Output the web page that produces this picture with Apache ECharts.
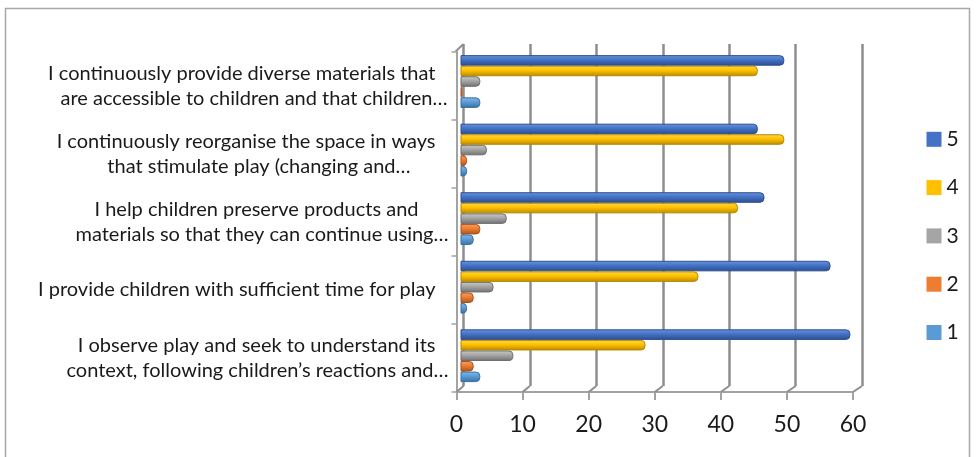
<!DOCTYPE html>
<html>
<head>
<meta charset="utf-8">
<script src="https://cdn.jsdelivr.net/npm/echarts@6/dist/echarts.min.js"></script>
<style>
  html, body { margin: 0; padding: 0; background: #ffffff; }
  #chart { width: 978px; height: 457px; }
</style>
</head>
<body>
<div id="chart"></div>
<script>
// Survey statements (bottom to top on the category axis)
const categories = [
  "I observe play and seek to understand its\ncontext, following children’s reactions and…",
  "I provide children with sufficient time for play",
  "I help children preserve products and\nmaterials so that they can continue using…",
  "I continuously reorganise the space in ways\nthat stimulate play (changing and…",
  "I continuously provide diverse materials that\nare accessible to children and that children…"
];

// Rating levels, drawn top to bottom inside each group
const seriesNames = ["5", "4", "3", "2", "1"];
const values5 = [59, 56, 46, 45, 49];
const values4 = [28, 36, 42, 49, 45];
const values3 = [8, 5, 7, 4, 3];
const values2 = [2, 2, 3, 1, 0];
const values1 = [3, 1, 2, 1, 3];
const seriesValues = [values5, values4, values3, values2, values1];

// Value axis ticks
const xTicks = [0, 10, 20, 30, 40, 50, 60];

// ---- styling ----
const FONT = 'Lato, "Open Sans", sans-serif';
const TEXT = '#1a1a1a';
const AXIS_GREY = '#a3a3a3';
const WALL_GREY = '#8e8e8e';

// base, light, dark shades for each rating colour
const palette = {
  "5": ['#4472C4', '#6a95e0', '#2c4e8e'],
  "4": ['#FFC000', '#ffd84a', '#b78a00'],
  "3": ['#A5A5A5', '#cacaca', '#6f6f6f'],
  "2": ['#ED7D31', '#f6a068', '#a9541c'],
  "1": ['#5B9BD5', '#86bbec', '#3a6f9f']
};

// how far each label line sits left of the common right edge
const labelInsets = [[13, 0], [13], [30, 0], [13, 38], [13, 1]];

// plot planes: back wall, front frame, bar plane
const W = 978, H = 457;
const back  = { left: 463.5, right: W - 862, top: 44, bottom: H - 386 };
const front = { left: 456.5, right: W - 853, top: 51.5, bottom: H - 392 };
const bars  = { left: 460.5, right: W - 857, top: 47.25, bottom: H - 390 };

const LABEL_SIZE = 20;
const labelRich = {};
labelInsets.flat().forEach(function (n) {
  labelRich['r' + n] = {
    fontFamily: FONT, fontSize: LABEL_SIZE, color: TEXT,
    lineHeight: 25, padding: [0, n, 0, 0]
  };
});

const chart = echarts.init(document.getElementById('chart'), null, { renderer: 'canvas' });

const barSeries = seriesNames.map(function (name, i) {
  const c = palette[name];
  return {
    name: name,
    type: 'bar',
    xAxisIndex: 2,
    yAxisIndex: 2,
    data: seriesValues[i],
    barGap: '0%',
    barCategoryGap: '23%',
    barMinHeight: 2,
    itemStyle: {
      color: new echarts.graphic.LinearGradient(0, 0, 0, 1, [
        { offset: 0, color: c[1] },
        { offset: 0.45, color: c[0] },
        { offset: 1, color: c[2] }
      ]),
      borderColor: c[2],
      borderWidth: 1,
      borderRadius: [0, 4, 4, 0]
    },
    emphasis: { disabled: true }
  };
});

// floor lines running from the front ticks back to the wall gridlines
const floorSeries = {
  type: 'custom',
  xAxisIndex: 1,
  yAxisIndex: 1,
  silent: true,
  z: 1,
  data: xTicks.map(function (v) { return [v, 0]; }),
  encode: { x: 0, y: 1 },
  renderItem: function (params, api) {
    const v = api.value(0);
    const cs = params.coordSys;
    const fx = api.coord([v, 0])[0];
    const fy = cs.y + cs.height;
    const backWidth = W - back.left - back.right;
    const bx = back.left + (v / 60) * backWidth;
    const by = H - back.bottom;
    return {
      type: 'line',
      shape: { x1: fx, y1: fy, x2: bx, y2: by },
      style: { stroke: WALL_GREY, lineWidth: 2 }
    };
  }
};

const option = {
  animation: false,
  backgroundColor: '#ffffff',
  textStyle: { fontFamily: FONT },
  grid: [
    Object.assign({ containLabel: false }, back),
    Object.assign({ containLabel: false }, front),
    Object.assign({ containLabel: false }, bars)
  ],
  legend: {
    orient: 'vertical',
    left: 926.5,
    top: 128.8,
    padding: 0,
    itemWidth: 15,
    itemHeight: 15,
    itemGap: 27.3,
    icon: 'rect',
    textStyle: { fontFamily: FONT, fontSize: 21, color: TEXT, lineHeight: 21 },
    data: seriesNames.map(function (n) {
      return { name: n, itemStyle: { color: palette[n][0], borderWidth: 0 } };
    })
  },
  xAxis: [
    {
      gridIndex: 0, type: 'value', min: 0, max: 60, interval: 10,
      axisLine: { show: false }, axisTick: { show: false }, axisLabel: { show: false },
      splitLine: { show: true, lineStyle: { color: WALL_GREY, width: 2.5 } }
    },
    {
      gridIndex: 1, type: 'value', min: 0, max: 60, interval: 10,
      axisLine: { show: true, lineStyle: { color: AXIS_GREY, width: 2 } },
      axisTick: { show: true, length: 8, inside: false, lineStyle: { color: AXIS_GREY, width: 2 } },
      axisLabel: { show: true, fontFamily: FONT, fontSize: 23, color: TEXT, margin: 21 },
      splitLine: { show: false }
    },
    {
      gridIndex: 2, type: 'value', min: 0, max: 60, interval: 10, show: false,
      splitLine: { show: false }
    }
  ],
  yAxis: [
    { gridIndex: 0, type: 'category', data: categories, show: false },
    {
      gridIndex: 1, type: 'category', data: categories,
      axisLine: { show: true, lineStyle: { color: AXIS_GREY, width: 2 } },
      axisTick: { show: true, length: 5, inside: false, lineStyle: { color: AXIS_GREY, width: 1.5 } },
      axisLabel: {
        show: true, align: 'right', margin: 8, interval: 0,
        fontFamily: FONT, fontSize: LABEL_SIZE, color: TEXT,
        formatter: function (value, index) {
          const insets = labelInsets[index];
          return value.split('\n').map(function (ln, i) {
            return '{r' + insets[i] + '|' + ln + '}';
          }).join('\n');
        },
        rich: labelRich
      },
      splitLine: { show: false }
    },
    { gridIndex: 2, type: 'category', data: categories, show: false }
  ],
  graphic: [
    {
      type: 'rect', silent: true, z: -10,
      shape: { x: 5.5, y: 8.5, width: 964, height: 470 },
      style: { fill: 'none', stroke: '#a8a8a8', lineWidth: 1.5 }
    },
    {
      type: 'line', silent: true,
      shape: { x1: front.left - 1, y1: front.top, x2: back.left, y2: back.top },
      style: { stroke: WALL_GREY, lineWidth: 2 }
    }
  ],
  series: barSeries.concat([floorSeries])
};

chart.setOption(option);
</script>
</body>
</html>
